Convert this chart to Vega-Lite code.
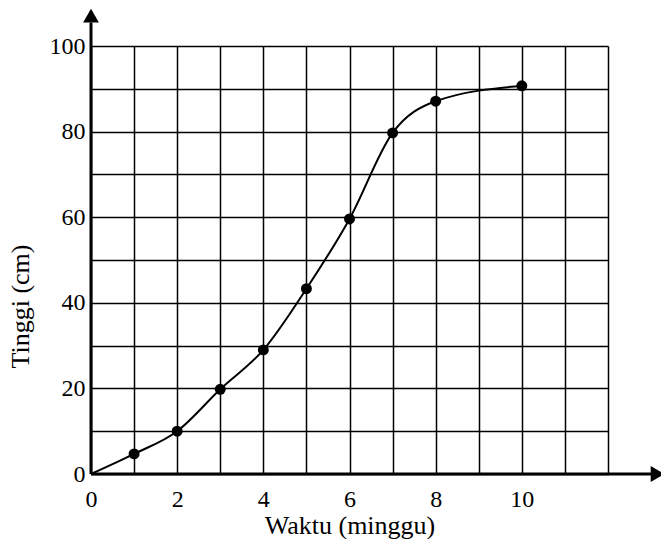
{
  "$schema": "https://vega.github.io/schema/vega-lite/v6.json",
  "width": 517,
  "height": 428,
  "autosize": {"type": "none"},
  "padding": {"left": 91, "top": 46, "right": 53, "bottom": 65},
  "background": "white",
  "config": {"view": {"stroke": null}, "font": "Liberation Serif", "axis": {"labelFont": "Liberation Serif", "titleFont": "Liberation Serif"}},
  "datasets": {
    "growth": [
      {"minggu": 0, "tinggi": 0},
      {"minggu": 1, "tinggi": 4.7},
      {"minggu": 2, "tinggi": 10},
      {"minggu": 3, "tinggi": 19.8},
      {"minggu": 4, "tinggi": 29},
      {"minggu": 5, "tinggi": 43.3},
      {"minggu": 6, "tinggi": 59.6},
      {"minggu": 7, "tinggi": 79.7},
      {"minggu": 8, "tinggi": 87.1},
      {"minggu": 10, "tinggi": 90.7}
    ],
    "xline": [{"minggu": 0, "minggu2": 13.0, "tinggi": 0}],
    "yline": [{"minggu": 0, "tinggi": 0, "tinggi2": 105.5}],
    "arrows": [
      {"minggu": 13.15, "tinggi": 0, "shape": "triangle-right"},
      {"minggu": 0, "tinggi": 107.1, "shape": "triangle-up"}
    ]
  },
  "encoding": {
    "x": {
      "field": "minggu",
      "type": "quantitative",
      "scale": {"domain": [0, 12], "nice": false, "zero": false},
      "axis": {
        "values": [0, 1, 2, 3, 4, 5, 6, 7, 8, 9, 10, 11, 12],
        "labelExpr": "(datum.value % 2 == 0 && datum.value <= 10) ? datum.label : ''",
        "grid": true,
        "gridColor": "black",
        "gridOpacity": 1,
        "gridWidth": 1.5,
        "domain": false,
        "ticks": false,
        "tickSize": 0,
        "labelFont": "Liberation Serif",
        "labelFontSize": 24,
        "labelColor": "black",
        "labelPadding": 13,
        "labelFlush": false,
        "labelOverlap": false,
        "title": "Waktu (minggu)",
        "titleFont": "Liberation Serif",
        "titleFontSize": 26,
        "titleFontWeight": "normal",
        "titleColor": "black",
        "titleBaseline": "alphabetic",
        "titleY": 59
      }
    },
    "y": {
      "field": "tinggi",
      "type": "quantitative",
      "scale": {"domain": [0, 100], "nice": false, "zero": false},
      "axis": {
        "values": [0, 10, 20, 30, 40, 50, 60, 70, 80, 90, 100],
        "labelExpr": "(datum.value % 20 == 0) ? datum.label : ''",
        "grid": true,
        "gridColor": "black",
        "gridOpacity": 1,
        "gridWidth": 1.5,
        "domain": false,
        "ticks": false,
        "tickSize": 0,
        "labelFont": "Liberation Serif",
        "labelFontSize": 24,
        "labelColor": "black",
        "labelPadding": 6,
        "labelFlush": false,
        "labelOverlap": false,
        "title": "Tinggi (cm)",
        "titleFont": "Liberation Serif",
        "titleFontSize": 26,
        "titleFontWeight": "normal",
        "titleColor": "black",
        "titleBaseline": "alphabetic",
        "titleX": -63,
        "titleY": 260
      }
    }
  },
  "layer": [
    {
      "data": {"name": "xline"},
      "mark": {"type": "rule", "color": "black", "strokeWidth": 3},
      "encoding": {"x2": {"field": "minggu2"}}
    },
    {
      "data": {"name": "yline"},
      "mark": {"type": "rule", "color": "black", "strokeWidth": 3},
      "encoding": {"y2": {"field": "tinggi2"}}
    },
    {
      "data": {"name": "arrows"},
      "mark": {"type": "point", "filled": true, "color": "black", "opacity": 1, "size": 250, "strokeWidth": 0},
      "encoding": {"shape": {"field": "shape", "type": "nominal", "scale": null}}
    },
    {
      "data": {"name": "growth"},
      "mark": {"type": "line", "interpolate": "monotone", "color": "black", "strokeWidth": 2}
    },
    {
      "data": {"name": "growth"},
      "transform": [{"filter": "datum.minggu > 0"}],
      "mark": {"type": "circle", "color": "black", "opacity": 1, "size": 120}
    }
  ]
}
